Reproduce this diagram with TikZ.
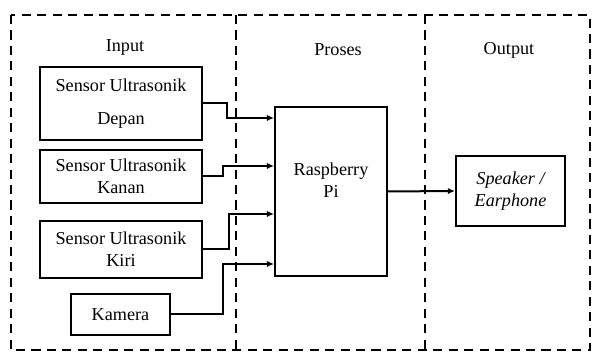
\documentclass[tikz,border=0pt]{standalone}
\usepackage{fontspec}
\setmainfont{Liberation Serif}
\usetikzlibrary{calc,arrows.meta}
\tikzset{
  blok/.style={draw,line width=1pt,align=center,inner sep=2pt},
  area/.style={line width=1.5pt,dash pattern=on 5pt off 3.5pt},
  panah/.style={line width=1.1pt,-{Latex[length=4pt,width=3.5pt]}}
}
\begin{document}
\begin{tikzpicture}[x=0.55pt,y=-0.55pt]
\useasboundingbox (0,0) rectangle (592,354);
\draw[area] (11,15) rectangle (590,350);
\draw[area] (236,15) -- (236,350);
\draw[area] (425,15) -- (425,350);
\node (lin) at (125,47) {Input};
\node (lpr) at (338,50) {Proses};
\node (lout) at (509,50) {Output};
\node[blok,minimum width=89pt,minimum height=40pt] (dep) at (121,103.5) {Sensor Ultrasonik\\[6pt]Depan};
\node[blok,minimum width=89pt,minimum height=29pt] (kan) at (121,176.5) {Sensor Ultrasonik\\Kanan};
\node[blok,minimum width=89pt,minimum height=31.4pt] (kir) at (121,249.5) {Sensor Ultrasonik\\Kiri};
\node[blok,minimum width=54.5pt,minimum height=22.5pt] (kam) at (120.5,314.5) {Kamera};
\node[blok,minimum width=61.6pt,minimum height=93pt,text depth=12pt] (rpi) at (331,191.5) {Raspberry\\Pi};
\node[blok,minimum width=60pt,minimum height=38.5pt,font=\itshape] (spk) at (510.5,191) {Speaker /\\Earphone};
\coordinate (p1) at ($(rpi.west)+(0,-73.5)$);
\coordinate (p2) at ($(rpi.west)+(0,-25.5)$);
\coordinate (p3) at ($(rpi.west)+(0,22.5)$);
\coordinate (p4) at ($(rpi.west)+(0,72.5)$);
\draw[panah] (dep.east) -- ++(24,0) |- (p1);
\draw[panah] (kan.east) -- ++(20,0) |- (p2);
\draw[panah] (kir.east) -- ++(26,0) |- (p3);
\draw[panah] (kam.east) -- ++(52,0) |- (p4);
\draw[panah] (rpi.east) -- (spk.west);
\end{tikzpicture}
\end{document}
